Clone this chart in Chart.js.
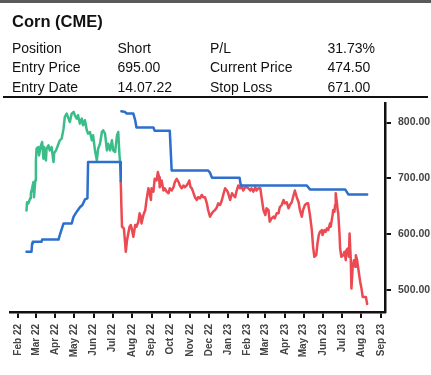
<!DOCTYPE html>
<html>
<head>
<meta charset="utf-8">
<script src="https://cdn.jsdelivr.net/npm/chart.js@4.4.1/dist/chart.umd.min.js"></script>
<style>
  html, body { margin: 0; padding: 0; background: #fff; }
  body { width: 431px; height: 375px; position: relative; overflow: hidden;
         font-family: "Liberation Sans", Arial, sans-serif; color: #111; }
  #topbar { position: absolute; left: 0; top: 0; width: 431px; height: 3px; background: #5a5a5a; }
  #rule { position: absolute; left: 3px; top: 96px; width: 425px; height: 1.5px; background: #111; }
  #title { position: absolute; left: 12px; top: 8.5px; font-size: 16.5px; font-weight: bold;
           line-height: 24px; white-space: nowrap; }
  .cell { position: absolute; font-size: 14px; line-height: 20px; white-space: nowrap; }
  #wrap { position: absolute; left: 0; top: 0; width: 431px; height: 375px; }
</style>
</head>
<body>
<div id="wrap"><canvas id="chart" width="431" height="375"></canvas></div>
<div id="topbar"></div>
<div id="title">Corn (CME)</div>
<div id="table"></div>
<div id="rule"></div>
<script>
// ---- trade summary ----
const summaryLabels = [['Position', 'P/L'], ['Entry Price', 'Current Price'], ['Entry Date', 'Stop Loss']];
const summaryValues = [['Short', '31.73%'], ['695.00', '474.50'], ['14.07.22', '671.00']];

// ---- price before the entry (green) ----
const preDates = ['2022-02-14','2022-02-15','2022-02-17','2022-02-20','2022-02-21','2022-02-23','2022-02-25','2022-02-26','2022-02-28',
  '2022-03-01','2022-03-02','2022-03-05','2022-03-06','2022-03-09','2022-03-11','2022-03-13','2022-03-14','2022-03-17','2022-03-18',
  '2022-03-21','2022-03-23','2022-03-26','2022-03-29','2022-03-30','2022-04-02','2022-04-06','2022-04-08','2022-04-11','2022-04-14',
  '2022-04-16','2022-04-19','2022-04-22','2022-04-24','2022-04-27','2022-04-30','2022-05-02','2022-05-05','2022-05-07','2022-05-10',
  '2022-05-13','2022-05-15','2022-05-18','2022-05-21','2022-05-23','2022-05-26','2022-05-29','2022-05-31','2022-06-03','2022-06-06',
  '2022-06-08','2022-06-11','2022-06-14','2022-06-16','2022-06-19','2022-06-22','2022-06-24','2022-06-27','2022-06-30','2022-07-02',
  '2022-07-05','2022-07-08','2022-07-10','2022-07-12','2022-07-13'];
const preValues = [642,657,655,664,673,682,693,666,696,
  732,753,756,741,759,765,735,756,732,753,
  759,750,756,729,745,750,762,768,771,789,
  810,816,807,801,816,819,813,807,813,798,
  807,795,804,786,780,783,768,777,750,732,
  753,762,783,786,780,750,762,750,768,750,
  747,777,783,741,729];

// ---- price since the entry (red) ----
const postDates = ['2022-07-14','2022-07-15','2022-07-16','2022-07-19','2022-07-21','2022-07-22','2022-07-24','2022-07-26','2022-07-28','2022-07-30',
  '2022-08-01','2022-08-03','2022-08-06','2022-08-08','2022-08-11','2022-08-13','2022-08-15','2022-08-16','2022-08-19','2022-08-22',
  '2022-08-24','2022-08-27','2022-08-28','2022-08-31','2022-09-01','2022-09-04','2022-09-06','2022-09-09','2022-09-11','2022-09-13',
  '2022-09-14','2022-09-17','2022-09-20','2022-09-22','2022-09-25','2022-09-28','2022-09-30','2022-10-03','2022-10-06','2022-10-08',
  '2022-10-11','2022-10-14','2022-10-16','2022-10-19','2022-10-22','2022-10-24','2022-10-27','2022-10-30','2022-10-31','2022-11-02',
  '2022-11-04','2022-11-06','2022-11-09','2022-11-12','2022-11-14','2022-11-17','2022-11-20','2022-11-22','2022-11-25','2022-11-28',
  '2022-11-30','2022-12-03','2022-12-06','2022-12-08','2022-12-11','2022-12-14','2022-12-16','2022-12-19','2022-12-22','2022-12-24',
  '2022-12-27','2022-12-30','2023-01-01','2023-01-04','2023-01-07','2023-01-09','2023-01-12','2023-01-14','2023-01-17','2023-01-20',
  '2023-01-22','2023-01-25','2023-01-28','2023-01-30','2023-02-02','2023-02-05','2023-02-07','2023-02-10','2023-02-13','2023-02-15',
  '2023-02-18','2023-02-21','2023-02-23','2023-02-26','2023-03-01','2023-03-03','2023-03-06','2023-03-08','2023-03-11','2023-03-14',
  '2023-03-16','2023-03-19','2023-03-22','2023-03-24','2023-03-27','2023-03-30','2023-04-01','2023-04-04','2023-04-07','2023-04-09',
  '2023-04-12','2023-04-15','2023-04-17','2023-04-20','2023-04-23','2023-04-25','2023-04-28','2023-04-30','2023-05-03','2023-05-06',
  '2023-05-08','2023-05-11','2023-05-14','2023-05-16','2023-05-18','2023-05-21','2023-05-23','2023-05-25','2023-05-27','2023-05-30',
  '2023-05-31','2023-06-03','2023-06-05','2023-06-07','2023-06-09','2023-06-12','2023-06-13','2023-06-16','2023-06-17','2023-06-19',
  '2023-06-20','2023-06-21','2023-06-23','2023-06-24','2023-06-25','2023-06-27','2023-06-28','2023-06-30','2023-07-03','2023-07-05',
  '2023-07-07','2023-07-08','2023-07-10','2023-07-12','2023-07-13','2023-07-15','2023-07-16','2023-07-18','2023-07-20','2023-07-22',
  '2023-07-23','2023-07-25','2023-07-28','2023-07-30','2023-08-01','2023-08-03','2023-08-06','2023-08-08','2023-08-10'];
const postValues = [695,650,613,610,583,568,589,601,613,616,
  607,595,616,613,622,637,631,619,634,643,
  661,682,678,661,682,676,699,696,711,702,
  684,696,678,682,676,673,682,678,684,693,
  699,693,687,682,687,684,687,693,696,684,
  682,676,666,661,666,664,670,666,666,655,
  643,631,637,640,643,648,655,652,661,670,
  682,678,673,661,673,670,666,676,687,682,
  687,678,684,684,682,678,682,676,684,678,
  682,682,666,643,634,646,643,622,628,631,
  628,637,637,648,652,661,655,657,646,652,
  657,670,678,666,657,643,631,643,652,655,
  655,634,607,577,559,562,583,598,604,607,
  598,607,604,610,607,619,613,634,643,640,
  652,673,655,643,637,601,574,559,562,568,
  553,571,574,559,601,553,502,541,553,541,
  562,553,529,514,502,487,487,487,474.5];

// ---- trailing stop before the entry (blue) ----
const stopPreDates = ['2022-02-14','2022-02-22','2022-02-23','2022-02-24','2022-03-10','2022-03-11','2022-04-06','2022-04-08','2022-04-14',
  '2022-04-27','2022-04-30','2022-05-05','2022-05-10','2022-05-14','2022-05-18','2022-05-22','2022-05-23','2022-07-13','2022-07-14'];
const stopPreValues = [568,568,583,586,586,590,590,598,619,
  619,631,640,648,652,662,664,729,729,695];

// ---- stop loss of the short position (blue) ----
const stopPostDates = ['2022-07-15','2022-07-21','2022-07-23','2022-08-03','2022-08-06','2022-08-08','2022-09-04','2022-09-06','2022-09-30',
  '2022-10-03','2022-11-30','2022-12-03','2022-12-06','2023-01-19','2023-01-21','2023-05-06','2023-05-11','2023-07-06','2023-07-11','2023-08-10'];
const stopPostValues = [820,819,816,816,804,791,791,785,785,
  714,714,710,701,701,687,687,680,680,671,671];

// ---- axes ----
const monthTickDates = ['2022-02-01','2022-03-01','2022-04-01','2022-05-01','2022-06-01','2022-07-01','2022-08-01','2022-09-01','2022-10-01',
  '2022-11-01','2022-12-01','2023-01-01','2023-02-01','2023-03-01','2023-04-01','2023-05-01','2023-06-01','2023-07-01','2023-08-01','2023-09-01'];
const monthTickLabels = ['Feb 22','Mar 22','Apr 22','May 22','Jun 22','Jul 22','Aug 22','Sep 22','Oct 22',
  'Nov 22','Dec 22','Jan 23','Feb 23','Mar 23','Apr 23','May 23','Jun 23','Jul 23','Aug 23','Sep 23'];
const priceTicks = [500, 600, 700, 800];

// ---- summary table ----
const colX = [12, 117.5, 210, 327.5];
const rowTop = [37.5, 57, 76.7];
const table = document.getElementById('table');
summaryLabels.forEach((pair, r) => {
  [pair[0], summaryValues[r][0], pair[1], summaryValues[r][1]].forEach((txt, c) => {
    const d = document.createElement('div');
    d.className = 'cell';
    d.style.left = colX[c] + 'px';
    d.style.top = rowTop[r] + 'px';
    d.textContent = txt;
    table.appendChild(d);
  });
});

// days counted from 1 Feb 2022
const ORIGIN = Date.UTC(2022, 1, 1);
function dayOf(s) {
  const [y, m, d] = s.split('-').map(Number);
  return (Date.UTC(y, m - 1, d) - ORIGIN) / 86400000;
}
function points(dates, values) {
  return dates.map((s, i) => ({ x: dayOf(s), y: values[i] }));
}

const BLUE = '#2c6fcd', GREEN = '#3bbd8a', RED = '#ec4a52';
const AXIS_FONT = { family: '"Liberation Sans", Arial, sans-serif', weight: 'bold' };
const monthTickDays = monthTickDates.map(dayOf);

new Chart(document.getElementById('chart'), {
  type: 'line',
  data: {
    datasets: [
      { label: 'Stop (before entry)', data: points(stopPreDates, stopPreValues), borderColor: BLUE },
      { label: 'Stop loss', data: points(stopPostDates, stopPostValues), borderColor: BLUE },
      { label: 'Price since entry', data: points(postDates, postValues), borderColor: RED },
      { label: 'Price before entry', data: points(preDates, preValues), borderColor: GREEN }
    ]
  },
  options: {
    responsive: false,
    animation: false,
    events: [],
    layout: { padding: { left: 10, top: 103, right: 0, bottom: 0 } },
    plugins: { legend: { display: false }, tooltip: { enabled: false } },
    elements: {
      point: { radius: 0 },
      line: { borderWidth: 2.5, tension: 0, borderJoinStyle: 'round', borderCapStyle: 'round', fill: false }
    },
    scales: {
      x: {
        type: 'linear',
        position: 'bottom',
        min: -13.2,
        max: 583.4,
        afterBuildTicks: s => { s.ticks = monthTickDays.map(v => ({ value: v })); },
        afterFit: s => { s.height = 63; },
        ticks: {
          autoSkip: false, minRotation: 90, maxRotation: 90, padding: 6,
          color: '#444', font: Object.assign({ size: 10 }, AXIS_FONT),
          callback: (v, i) => monthTickLabels[i]
        },
        grid: { drawOnChartArea: false, drawTicks: true, tickLength: 6, color: '#111', lineWidth: 2 },
        border: { display: true, color: '#111', width: 2.5 }
      },
      y: {
        type: 'linear',
        position: 'right',
        min: 460,
        max: 835,
        afterBuildTicks: s => { s.ticks = priceTicks.map(v => ({ value: v })); },
        afterFit: s => { s.width = 46; },
        ticks: {
          padding: 7, color: '#444', font: Object.assign({ size: 10.5 }, AXIS_FONT),
          callback: v => v.toFixed(2)
        },
        grid: { drawOnChartArea: false, drawTicks: true, tickLength: 6, color: '#111', lineWidth: 2 },
        border: { display: true, color: '#111', width: 2.5 }
      }
    }
  }
});
</script>
</body>
</html>
